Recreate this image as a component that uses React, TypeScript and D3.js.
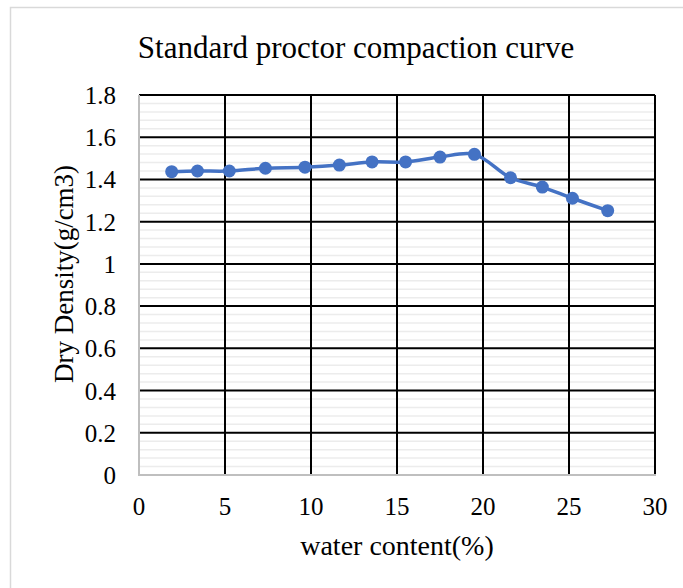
import React from "react";
import * as d3 from "d3";

const waterContent = [1.9, 3.4, 5.25, 7.35, 9.65, 11.65, 13.55, 15.5, 17.5, 19.5, 21.6, 23.45, 25.2, 27.25];
const dryDensity = [1.437, 1.44, 1.44, 1.453, 1.458, 1.468, 1.483, 1.483, 1.506, 1.519, 1.408, 1.364, 1.311, 1.252];
const xTicks = [0, 5, 10, 15, 20, 25, 30];
const yTicks = [0, 0.2, 0.4, 0.6, 0.8, 1, 1.2, 1.4, 1.6, 1.8];

const W = 683;
const H = 588;
const left = 139;
const right = 655;
const top = 95;
const bottom = 475;
const font = "'Liberation Serif', 'Times New Roman', serif";

export default function App() {
  const x = d3.scaleLinear().domain([0, 30]).range([left, right]);
  const y = d3.scaleLinear().domain([0, 1.8]).range([bottom, top]);
  const minor = d3.range(0, 1.8001, 0.04).filter((v) => Math.abs(v / 0.2 - Math.round(v / 0.2)) > 1e-6);
  const pts = waterContent.map((w, i) => [w, dryDensity[i]] as [number, number]);
  const line = d3
    .line<[number, number]>()
    .x((d) => x(d[0]))
    .y((d) => y(d[1]))
    .curve(d3.curveCatmullRom.alpha(0.5));

  return (
    <svg width={W} height={H} style={{ position: "absolute", left: 0, top: 0 }}>
      <rect x={0} y={0} width={W} height={H} fill="#fff" />
      <rect x={10.5} y={7.5} width={W} height={H} fill="#fff" stroke="#d9d9d9" strokeWidth={1.5} />
      <text x={356} y={58} textAnchor="middle" fontFamily={font} fontSize={31} fill="#000">
        Standard proctor compaction curve
      </text>
      {minor.map((v, i) => (
        <line key={"m" + i} x1={left} x2={right} y1={y(v)} y2={y(v)} stroke="#ececec" strokeWidth={1.5} />
      ))}
      {yTicks.slice(1).map((v) => (
        <line key={"hy" + v} x1={left} x2={right} y1={y(v)} y2={y(v)} stroke="#000" strokeWidth={2} />
      ))}
      {xTicks.slice(1).map((v) => (
        <line key={"vx" + v} x1={x(v)} x2={x(v)} y1={top} y2={bottom} stroke="#000" strokeWidth={2} />
      ))}
      <line x1={left} x2={left} y1={top} y2={bottom + 1} stroke="#bfbfbf" strokeWidth={2} />
      <line x1={left} x2={right + 1} y1={bottom} y2={bottom} stroke="#bfbfbf" strokeWidth={2} />
      {yTicks.map((v) => (
        <text key={"ty" + v} x={116} y={y(v) + 9} textAnchor="end" fontFamily={font} fontSize={25} fill="#000">
          {String(v)}
        </text>
      ))}
      {xTicks.map((v) => (
        <text key={"tx" + v} x={x(v)} y={515} textAnchor="middle" fontFamily={font} fontSize={25} fill="#000">
          {String(v)}
        </text>
      ))}
      <text x={397} y={555} textAnchor="middle" fontFamily={font} fontSize={28} fill="#000">
        water content(%)
      </text>
      <text
        transform={`translate(73, 274) rotate(-90)`}
        textAnchor="middle"
        fontFamily={font}
        fontSize={27}
        fill="#000"
      >
        Dry Density(g/cm3)
      </text>
      <path d={line(pts) || ""} fill="none" stroke="#4472C4" strokeWidth={3.5} />
      {pts.map((p, i) => (
        <circle key={"p" + i} cx={x(p[0])} cy={y(p[1])} r={6.5} fill="#4472C4" />
      ))}
    </svg>
  );
}
